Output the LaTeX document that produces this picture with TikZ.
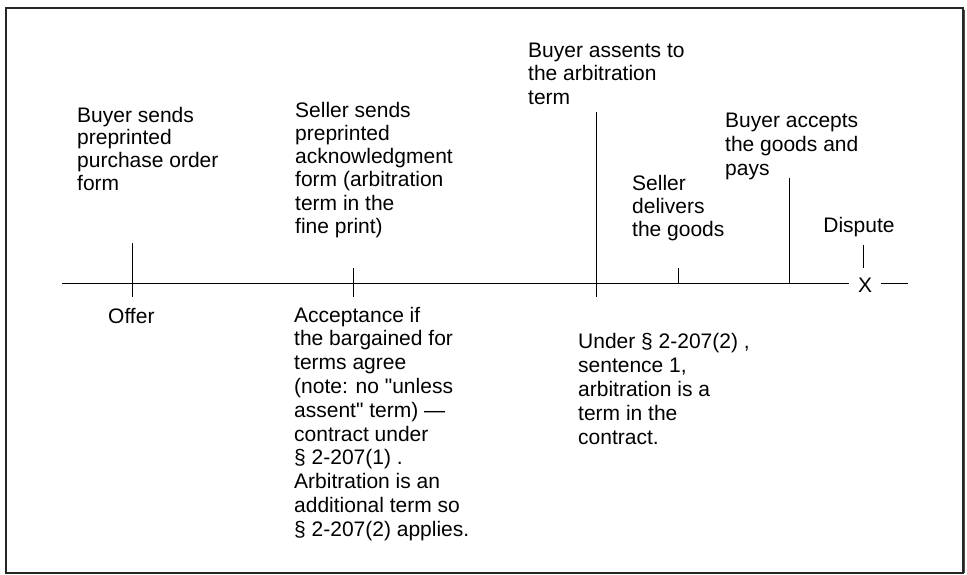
\documentclass[tikz,border=0pt]{standalone}
\usepackage{fontspec}
\setmainfont{Liberation Sans}
\newfontfamily\qfont{Liberation Sans}
\newcommand{\sq}{{\qfont\symbol{34}}}
\begin{document}
\begin{tikzpicture}[x=1pt,y=-1pt,
  txt/.style={anchor=north west,inner sep=0pt,align=left,font=\fontsize{21}{#1}\selectfont},
  txt/.default=23.5,
  lab/.style={inner sep=0pt,font=\fontsize{21}{23.5}\selectfont},
  tick/.style={draw=black,line width=1pt},
  frame/.style={draw=black!85,line width=1.2pt}]
\useasboundingbox (0,0) rectangle (967,575);
\draw[frame] (6,8) rectangle (963,573);
\draw[draw=black!70,line width=1.5pt] (964.5,10) -- (964.5,573);
% texts above
\node[txt=22.8] (t1) at (77,106) {\strut Buyer sends\\preprinted\\purchase order\\form};
\node[txt=23.2] (t2) at (295,100.8) {\strut Seller sends\\preprinted\\acknowledgment\\form (arbitration\\term in the\\fine print)};
\node[txt=23.5] (t3) at (528,40.5) {\strut Buyer assents to\\the arbitration\\term};
\node[txt=23] (t4) at (632,173.9) {\strut Seller\\delivers\\the goods};
\node[txt=23.8] (t5) at (725,110.6) {\strut Buyer accepts\\the goods and\\pays};
\node[lab,anchor=base] (t6) at (859,233) {Dispute};
% texts below
\node[lab,anchor=base west] (b1) at (108,323) {Offer};
\node[txt=23.8] (b2) at (294,305.3) {\strut Acceptance if\\the bargained for\\terms agree\\(note: no \sq unless\\assent\sq{} term) —\\contract under\\§ 2-207(1) .\\Arbitration is an\\additional term so\\§ 2-207(2) applies.};
\node[txt=24] (b3) at (578,331.2) {\strut Under § 2-207(2) ,\\sentence 1,\\arbitration is a\\term in the\\contract.};
% timeline
\node[lab,inner xsep=8.5pt,anchor=base] (x) at (865,292.5) {X};
\coordinate (l0) at (62,283);
\coordinate (l1) at (908,283);
\draw[tick] (l0) -- (x.west |- l0);
\draw[tick] (x.east |- l0) -- (l1);
% ticks
\coordinate (a1) at (132,243); \coordinate (a2) at (132,297);
\coordinate (c1) at (353,268); \coordinate (c2) at (353,297);
\coordinate (d1) at (596,112); \coordinate (d2) at (596,297);
\coordinate (e1) at (678,268); \coordinate (e2) at (678,283);
\coordinate (f1) at (789,178); \coordinate (f2) at (789,283);
\coordinate (g1) at (863,245); \coordinate (g2) at (863,268);
\draw[tick] (a1) -- (a2);
\draw[tick] (c1) -- (c2);
\draw[tick] (d1) -- (d2);
\draw[tick] (e1) -- (e2);
\draw[tick] (f1) -- (f2);
\draw[tick] (g1) -- (g2);
\end{tikzpicture}
\end{document}
